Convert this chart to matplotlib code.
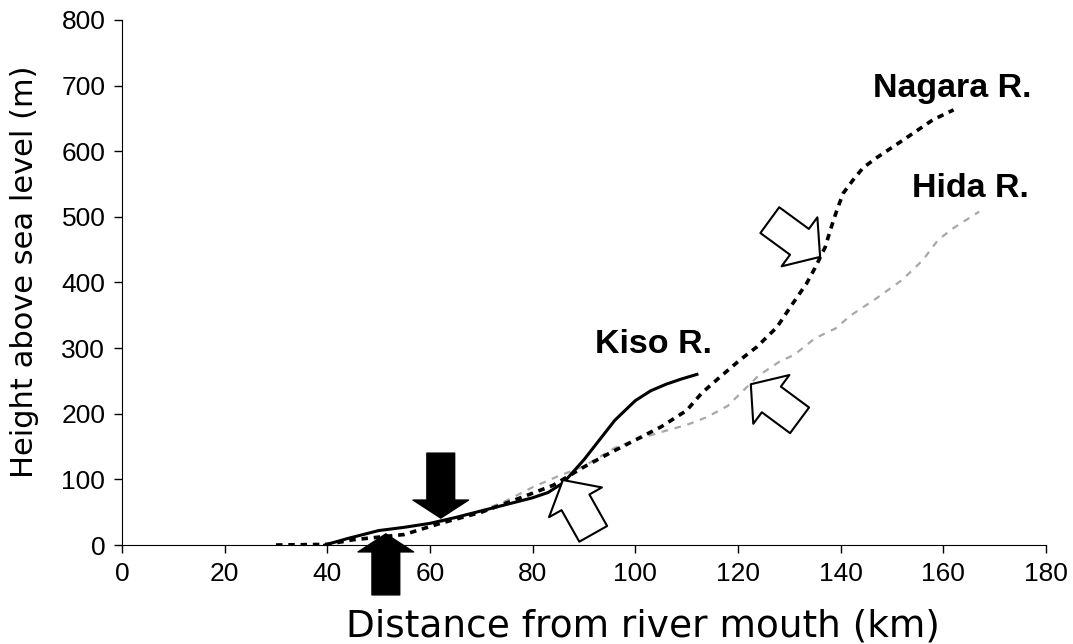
import matplotlib
matplotlib.use('Agg')
import matplotlib.pyplot as plt

# river profiles: distance from mouth (km) vs height (m)
kiso_x = [39.5, 44, 50, 55, 60, 65, 70, 75, 80, 83, 86, 90, 93, 96, 100, 103, 106, 109, 112]
kiso_y = [0, 10, 22, 27, 33, 42, 52, 62, 72, 80, 95, 130, 160, 190, 220, 235, 245, 253, 260]

nagara_x = [30, 40, 45, 50, 55, 62, 70, 78, 84, 90, 95, 100, 105, 110, 113, 116.5, 120.4,
            123.7, 127.6, 130.5, 133.4, 135, 137, 138, 139.3, 140.5, 142.4, 144.4, 147,
            151.6, 158, 162]
nagara_y = [0, 1, 8, 12, 16, 33, 50, 73, 91, 119, 140, 160, 180, 205, 232, 256, 282,
            302, 332, 366, 399, 422, 454, 480, 511, 536, 556, 575, 590,
            614, 648, 663]

hida_x = [62, 70, 75, 80, 85, 90, 96, 100, 105, 110, 114, 118, 121, 124, 128, 131,
          135, 139, 142, 147, 152, 156, 159, 162, 165, 167]
hida_y = [35, 52, 68, 88, 105, 120, 148, 160, 172, 183, 195, 212, 235, 258, 279, 290,
          315, 330, 350, 376, 404, 434, 465, 483, 498, 508]

x_ticks = list(range(0, 181, 20))
y_ticks = list(range(0, 801, 100))

# (tail, head) of the annotation arrows
black_arrows = [((62.1, 140), (62.1, 41)), ((51.4, -76), (51.4, 17))]
open_arrows = [((91.8, 17), (85.9, 99)), ((132, 190), (122.5, 245)), ((126.2, 495), (136, 439))]

labels = [('Kiso R.', 92.1, 293), ('Nagara R.', 146.3, 683), ('Hida R.', 153.9, 530)]

fig = plt.figure(figsize=(10.73, 6.44), dpi=100)
ax = fig.add_axes([0.1137, 0.1537, 0.8611, 0.8153])

ax.plot(hida_x, hida_y, color='#a8a8a8', lw=1.6, ls=(0, (3, 3)), zorder=2)
ax.plot(nagara_x, nagara_y, color='black', lw=2.6, ls=(0, (1.8, 1.6)), zorder=3)
ax.plot(kiso_x, kiso_y, color='black', lw=2.2, zorder=4)

for tail, head in black_arrows:
    ax.annotate('', xy=head, xytext=tail, annotation_clip=False,
                arrowprops=dict(arrowstyle='simple,head_length=0.65,head_width=2.0,tail_width=1.0',
                                mutation_scale=20, fc='black', ec='black', lw=1,
                                shrinkA=0, shrinkB=0), zorder=6)

for tail, head in open_arrows:
    ax.annotate('', xy=head, xytext=tail, annotation_clip=False,
                arrowprops=dict(arrowstyle='simple,head_length=0.8,head_width=1.9,tail_width=1.0',
                                mutation_scale=23, fc='white', ec='black', lw=1.5,
                                shrinkA=0, shrinkB=0), zorder=6)

for txt, lx, ly in labels:
    ax.text(lx, ly, txt, fontsize=24.5, fontweight='bold', family='Liberation Sans',
            ha='left', va='baseline')

ax.set_xlim(0, 180)
ax.set_ylim(0, 800)
ax.set_xticks(x_ticks)
ax.set_yticks(y_ticks)
ax.spines['top'].set_visible(False)
ax.spines['right'].set_visible(False)
ax.tick_params(direction='out', length=6, width=1, pad=6)
for lab in ax.get_xticklabels() + ax.get_yticklabels():
    lab.set_family('Liberation Sans')
    lab.set_fontsize(19)

fig.text(643 / 1073, 1 - 636 / 644, 'Distance from river mouth (km)',
         fontsize=27, ha='center', va='baseline')
fig.text(25 / 1073, 1 - 272 / 644, 'Height above sea level (m)',
         fontsize=22, rotation=90, ha='center', va='center')

plt.savefig('out.png', dpi=100)
plt.close()
